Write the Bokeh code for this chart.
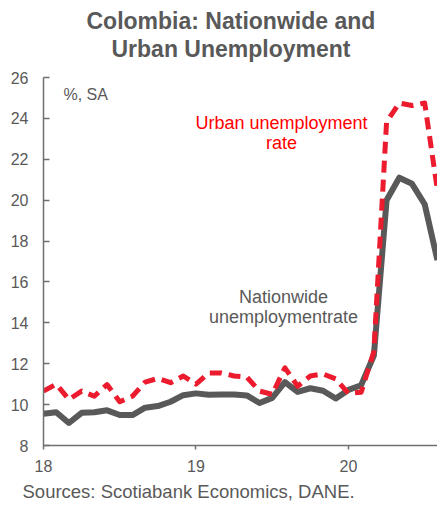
from bokeh.plotting import figure
from bokeh.models import Label, FixedTicker, Range1d, ColumnDataSource, Title
from bokeh.embed import file_html
from bokeh.resources import INLINE

months = [f"{y}-{m:02d}" for y in (2018, 2019, 2020) for m in range(1, 13)][:32]
nationwide = [9.55, 9.63, 9.1, 9.6, 9.63, 9.72, 9.49, 9.49, 9.85, 9.93, 10.14, 10.46,
              10.55, 10.48, 10.5, 10.5, 10.45, 10.08, 10.33, 11.1, 10.62, 10.8, 10.68, 10.3,
              10.72, 10.95, 12.4, 20.0, 21.1, 20.8, 19.8, 17.07]
urban = [10.66, 11.0, 10.25, 10.66, 10.41, 10.98, 10.14, 10.41, 11.1, 11.28, 11.07, 11.4,
         11.0, 11.55, 11.55, 11.4, 11.35, 10.66, 10.5, 11.8, 10.9, 11.4, 11.5, 11.26,
         10.55, 10.6, 12.6, 23.83, 24.75, 24.63, 24.75, 20.5]
x_ticks = [18, 19, 20]
y_ticks = [8, 10, 12, 14, 16, 18, 20, 22, 24, 26]

xs = [int(s[2:4]) + (int(s[5:7]) - 1) / 12 for s in months]
src = ColumnDataSource(dict(x=xs, nat=nationwide, urb=urban))

FONT = "Liberation Sans"
GRAY = "#595959"

p = figure(width=437, height=506, output_backend="svg", toolbar_location=None,
           x_range=Range1d(18, 20.584), y_range=Range1d(8, 26), title=None,
           min_border_left=43, min_border_right=0, min_border_top=77, min_border_bottom=60)
p.outline_line_color = None
p.xgrid.visible = False
p.ygrid.visible = False

def title(text, place, standoff, size, bold=True, align="left", offset=0, color=GRAY):
    p.add_layout(Title(text=text, align=align, offset=offset, text_font=FONT,
                       text_font_size=size, text_font_style="bold" if bold else "normal",
                       text_color=color, standoff=standoff), place)

# blank spacer between title and plot frame
title(" ", "above", 3, "10px", color="#ffffff")
title("Urban Unemployment", "above", 0, "23px", offset=68)
title("Colombia: Nationwide and", "above", 0, "23px", offset=43)

p.line("x", "nat", source=src, line_color=GRAY, line_width=6, line_join="round")
p.line("x", "urb", source=src, line_color="#ec1c2e", line_width=5, line_dash="12 7",
       line_join="round")

for ax in (p.xaxis[0], p.yaxis[0]):
    ax.axis_line_color = "#6f6f6f"
    ax.axis_line_width = 1.5
    ax.major_tick_line_color = "#6f6f6f"
    ax.major_tick_line_width = 1.5
    ax.minor_tick_line_color = None
    ax.major_label_text_font = FONT
    ax.major_label_text_font_size = "16px"
    ax.major_label_text_color = GRAY

p.xaxis.ticker = FixedTicker(ticks=x_ticks)
p.xaxis.major_tick_in = 0
p.xaxis.major_tick_out = 4
p.xaxis.major_label_standoff = 10
p.yaxis.ticker = FixedTicker(ticks=y_ticks)
p.yaxis.major_tick_in = 6
p.yaxis.major_tick_out = 0
p.yaxis.major_label_standoff = 15

title("Sources: Scotiabank Economics, DANE.", "below", 9, "18.5px", bold=False,
      align="left", offset=-21)

def lab(x, y, t, size, color, align="center"):
    p.add_layout(Label(x=x, y=y, text=t, text_font=FONT, text_font_size=size,
                       text_color=color, text_align=align, text_baseline="middle"))

lab(18.131, 25.17, "%, SA", "16px", GRAY, align="left")
lab(19.561, 23.76, "Urban unemployment", "18px", "#ff0000")
lab(19.561, 22.78, "rate", "18px", "#ff0000")
lab(19.574, 15.27, "Nationwide", "18px", GRAY)
lab(19.574, 14.29, "unemploymentrate", "18px", GRAY)

open("out.html", "w").write(file_html(p, INLINE))
